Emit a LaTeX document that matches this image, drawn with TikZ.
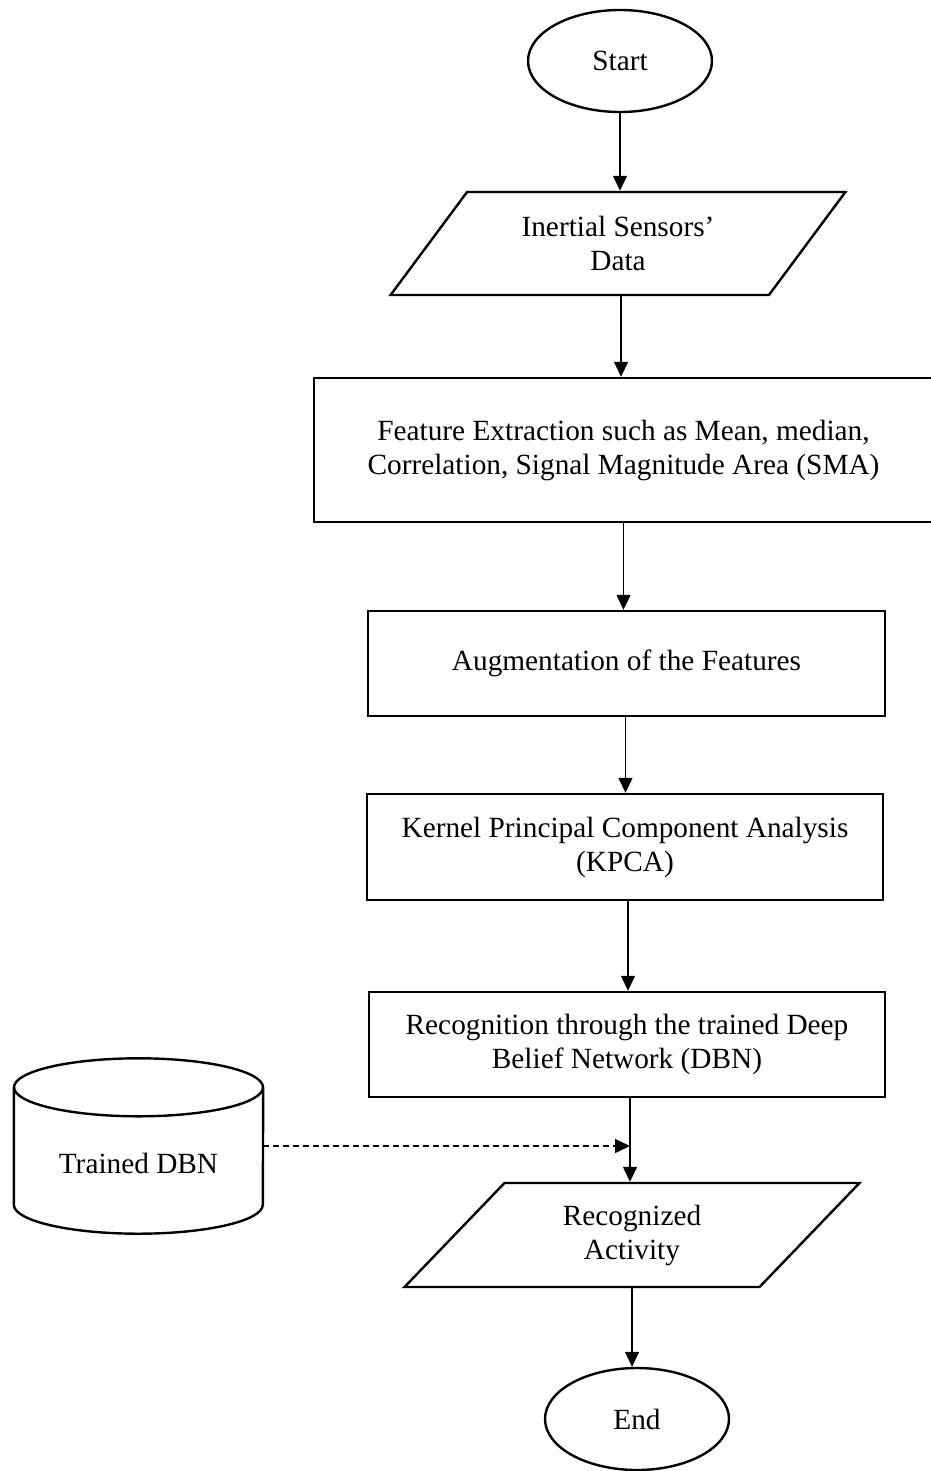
\documentclass[tikz,border=0pt]{standalone}
\usepackage{fontspec}
\setmainfont{Liberation Serif}
\usetikzlibrary{shapes.geometric,arrows.meta,calc}
\begin{document}
\begin{tikzpicture}[x=1pt,y=-1pt,
  every node/.style={font=\fontsize{29.3}{34}\selectfont, align=center, inner sep=0pt},
  shp/.style={draw, line width=2.4pt},
  term/.style={shp, ellipse, minimum width=184pt, minimum height=102pt},
  proc/.style={shp, rectangle},
  io/.style={shp, trapezium, trapezium left angle=48.2, trapezium right angle=131.8, trapezium stretches=true},
  conn/.style={line width=1.4pt, -{Triangle[length=15pt,width=14pt]}},
  dconn/.style={conn, dash pattern=on 6pt off 4pt}]
\useasboundingbox (0,0) rectangle (930,1471);

\node[term] (start) at (620,61) {Start};
\node[io, minimum width=456pt, minimum height=103pt] (imu) at (618,243.5) {Inertial Sensors’\\Data};
\node[proc, minimum width=619pt, minimum height=144pt] (feat) at (623.5,450) {Feature Extraction such as Mean, median,\\Correlation, Signal Magnitude Area (SMA)};
\node[proc, minimum width=517pt, minimum height=105pt] (aug) at (626.5,663.5) {Augmentation of the Features};
\node[proc, minimum width=516pt, minimum height=106pt] (kpca) at (625,847) {Kernel Principal Component Analysis\\(KPCA)};
\node[proc, minimum width=516pt, minimum height=105pt] (recog) at (627,1044.5) {Recognition through the trained Deep\\Belief Network (DBN)};
\node[io, minimum width=456pt, minimum height=104pt] (act) at (632,1235) {Recognized\\Activity};
\node[term] (end) at (637,1419) {End};

% cylinder
\node[minimum width=249pt, minimum height=175pt] (db) at (138.5,1146) {};
\draw[shp] ([yshift=-29pt]db.north west) -- ([yshift=29pt]db.south west)
  arc[start angle=180, end angle=360, x radius=124.5pt, y radius=29pt]
  -- ([yshift=-29pt]db.north east);
\draw[shp] ([yshift=-29pt]db.north) ellipse[x radius=124.5pt, y radius=29pt];
\node (dbt) at ([yshift=-17pt]db.center) {Trained DBN};

% connectors
\coordinate (rj) at ([xshift=3pt]recog.south);
\draw[conn] (start.south) -- (start.south |- imu.north);
\draw[conn] ([xshift=3pt]imu.south) -- ([xshift=3pt]imu.south |- feat.north);
\draw[conn] (feat.south) -- (feat.south |- aug.north);
\draw[conn] ([xshift=-1pt]aug.south) -- ([xshift=-1pt]aug.south |- kpca.north);
\draw[conn] ([xshift=3pt]kpca.south) -- ([xshift=3pt]kpca.south |- recog.north);
\draw[conn] (rj) -- (rj |- act.north);
\draw[conn] (act.south) -- (act.south |- end.north);
\draw[dconn] (db.east) -- (db.east -| rj);
\end{tikzpicture}
\end{document}
